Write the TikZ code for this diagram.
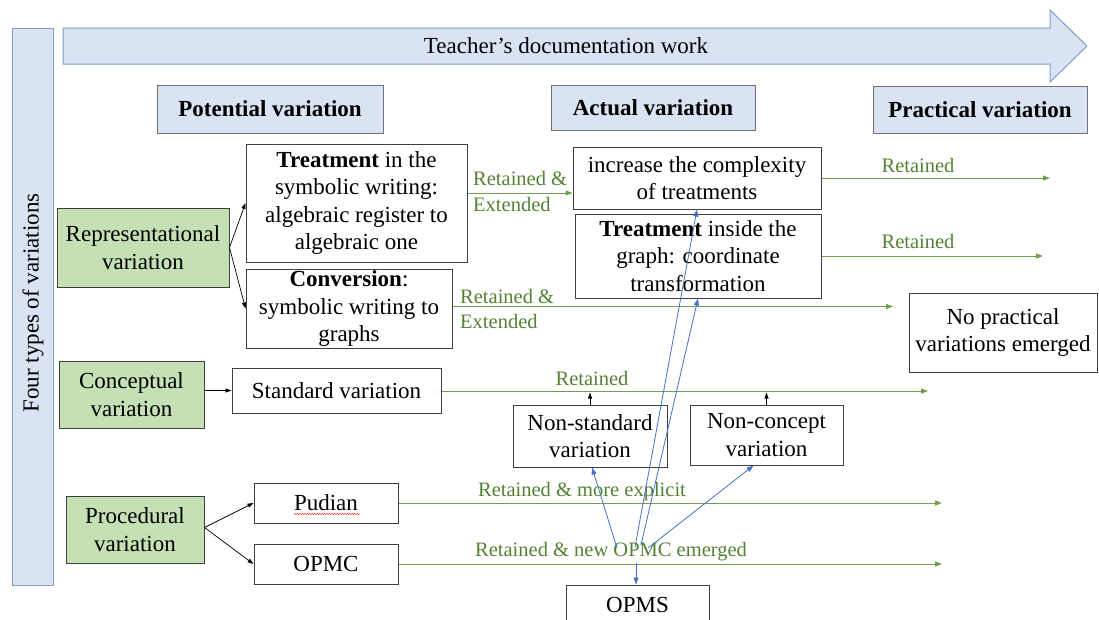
\documentclass[tikz,border=0pt]{standalone}
\usepackage{fontspec}
\setmainfont{Liberation Serif}
\usetikzlibrary{arrows.meta,decorations.pathmorphing,calc}
\definecolor{lblue}{RGB}{218,227,243}
\definecolor{bborder}{RGB}{132,158,205}
\definecolor{lgreen}{RGB}{197,224,180}
\definecolor{tgreen}{RGB}{84,130,53}
\definecolor{lngreen}{RGB}{110,160,78}
\definecolor{ablue}{RGB}{68,114,196}
\newcommand\bodyfont{\fontsize{23}{27.5}\selectfont}
\newcommand\labfont{\fontsize{20.5}{25}\selectfont}
\begin{document}
\begin{tikzpicture}[x=1pt,y=-1pt,
  wbox/.style={draw=black!75,line width=1pt,fill=white,align=center,inner sep=0pt,font=\bodyfont},
  gbox/.style={wbox,fill=lgreen},
  hbox/.style={draw=black!55,line width=1pt,fill=lblue,align=center,inner sep=0pt,font=\bodyfont\bfseries},
  glab/.style={text=tgreen,font=\labfont,inner sep=0pt,align=left},
  garr/.style={draw=lngreen,line width=1pt,-{Triangle[length=7pt,width=5pt]}},
  karr/.style={draw=black,line width=0.7pt,-{Triangle[length=6pt,width=4pt]}},
  barr/.style={draw=ablue,line width=0.8pt,-{Triangle[length=7pt,width=5pt]}}]
\clip (0,0) rectangle (1099,619);
\fill[white] (0,0) rectangle (1099,619);

% top arrow
\filldraw[fill=lblue,draw=bborder,line width=1pt]
  (63,28) -- (1050,28) -- (1050,10) -- (1087,46) -- (1050,82) -- (1050,64) -- (63,64) -- cycle;
\node[font=\bodyfont,inner sep=0pt] (doc) at (566,46) {Teacher’s documentation work};

% left bar
\node[draw=bborder,fill=lblue,line width=1pt,minimum width=41pt,minimum height=557pt,inner sep=0pt] (bar) at (32.5,306.5) {};
\node[font=\bodyfont,rotate=90,inner sep=0pt] (four) at (33,303) {Four types of variations};

% headers
\node[hbox,minimum width=226pt,minimum height=48pt] (pot) at (270,109) {Potential variation};
\node[hbox,minimum width=204pt,minimum height=45pt] (act) at (653,107.5) {Actual variation};
\node[hbox,minimum width=214pt,minimum height=47pt] (prac) at (980,109.5) {Practical variation};

% green boxes
\node[gbox,minimum width=172pt,minimum height=79pt] (rep) at (143,247.5) {Representational\\variation};
\node[gbox,minimum width=145pt,minimum height=67pt] (con) at (131.5,394.5) {Conceptual\\variation};
\node[gbox,minimum width=138pt,minimum height=67pt] (pro) at (135,529.5) {Procedural\\variation};

% potential boxes
\node[wbox,minimum width=221pt,minimum height=118pt] (treat) at (356.5,203) {\textbf{Treatment} in the\\symbolic writing:\\algebraic register to\\algebraic one};
\node[wbox,minimum width=206pt,minimum height=79pt] (conv) at (349,308.5) {\textbf{Conversion}:\\symbolic writing to\\graphs};
\node[wbox,minimum width=209pt,minimum height=45pt] (std) at (336.5,390.5) {Standard variation};
\node[wbox,minimum width=144pt,minimum height=40pt] (pud) at (326,503) {Pudian};
\node[wbox,minimum width=144pt,minimum height=40pt] (opmc) at (326,564) {OPMC};
\draw[red,line width=0.4pt,decorate,decoration={snake,amplitude=0.6pt,segment length=2.5pt}] (294,514) -- (360,514);

% actual boxes
\node[wbox,minimum width=248pt,minimum height=62pt] (inc) at (697,178) {increase the complexity\\of treatments};
\node[wbox,minimum width=246pt,minimum height=84pt] (tig) at (698,256) {\textbf{Treatment} inside the\\graph: coordinate\\transformation};
\node[wbox,minimum width=154pt,minimum height=62pt] (nstd) at (590,436) {Non-standard\\variation};
\node[wbox,minimum width=153pt,minimum height=60pt] (ncon) at (766.5,435) {Non-concept\\variation};
\node[wbox,minimum width=143pt,minimum height=40pt] (opms) at (637.5,605) {OPMS};

% practical
\node[wbox,minimum width=188pt,minimum height=79pt] (nopr) at (1003,332.5) {No practical\\variations emerged};

% free ends
\coordinate (e1) at (1050,178);
\coordinate (e2) at (1043,256);
\coordinate (e3) at (893,306.5);
\coordinate (e4) at (928,391);
\coordinate (e5) at (942,503);
\coordinate (e6) at (942,564);
\coordinate (h1) at (617,548);
\coordinate (h2) at (635,547);
\coordinate (h3) at (641,545);
\coordinate (h4) at (648,548);
\coordinate (h5) at (636,563);

% green arrows
\draw[garr] ($(treat.east)+(0,-10)$) -- ($(inc.west)+(0,15)$);
\draw[garr] (inc.east) -- (e1);
\draw[garr] (tig.east) -- (e2);
\draw[garr] ($(conv.east)+(0,-2)$) -- (e3);
\draw[garr] (std.east |- e4) -- (e4);
\draw[garr] (pud.east) -- (e5);
\draw[garr] (opmc.east) -- (e6);

% green labels
\node[glab,anchor=west] (l1a) at (473,178.5) {Retained \&};
\node[glab,anchor=west] (l1b) at (473,204.5) {Extended};
\node[glab,anchor=west] (l2a) at (460,296) {Retained \&};
\node[glab,anchor=west] (l2b) at (460,321) {Extended};
\node[glab] (l3) at (918,165) {Retained};
\node[glab] (l4) at (918,241) {Retained};
\node[glab] (l5) at (592,378) {Retained};
\node[glab] (l6) at (582,492) {Retained \& more explicit};
\node[glab] (l7) at (611,552) {Retained \& new OPMC emerged};

% black arrows
\draw[karr] (rep.east) -- (treat.west);
\draw[karr] (rep.east) -- (conv.west);
\draw[karr] (con.east |- std.west) -- (std.west);
\draw[karr] ($(pro.east)+(0,-2)$) -- (pud.west);
\draw[karr] ($(pro.east)+(0,-2)$) -- (opmc.west);
\draw[karr] (nstd.north) -- ++(0,-12);
\draw[karr] (ncon.north) -- ++(0,-12);

% blue arrows
\draw[barr] (h1) -- ([xshift=2pt]nstd.south);
\draw[barr] (h2) -- (inc.south);
\draw[barr] (h3) -- (tig.south);
\draw[barr] (h4) -- ([xshift=-13pt]ncon.south);
\draw[barr] (h5) -- (h5 |- opms.north);
\end{tikzpicture}
\end{document}
